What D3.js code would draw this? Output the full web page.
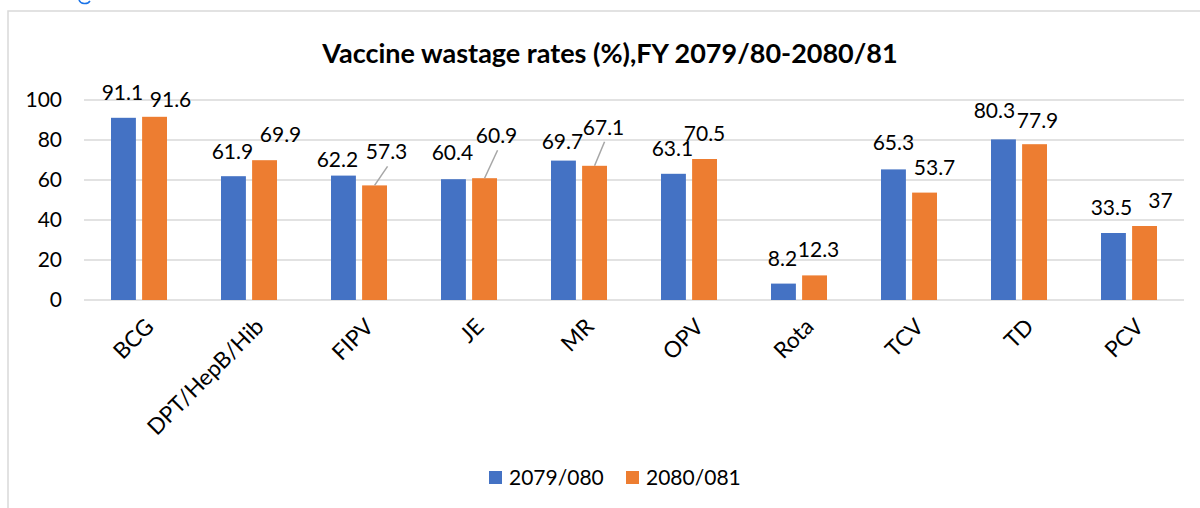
<!DOCTYPE html>
<html>
<head>
<meta charset="utf-8">
<script src="https://cdn.jsdelivr.net/npm/d3@7"></script>
<style>
  body { margin: 0; background: #fff; }
  svg { display: block; font-family: Lato, "Open Sans", sans-serif; }
</style>
</head>
<body>
<div id="chart"></div>
<script>
var width = 1200, height = 508;
var margin = {top: 100, right: 16, bottom: 208, left: 84};

var categories = ["BCG", "DPT/HepB/Hib", "FIPV", "JE", "MR", "OPV", "Rota", "TCV", "TD", "PCV"];
var seriesNames = ["2079/080", "2080/081"];
var values2079 = [91.1, 61.9, 62.2, 60.4, 69.7, 63.1, 8.2, 65.3, 80.3, 33.5];
var values2080 = [91.6, 69.9, 57.3, 60.9, 67.1, 70.5, 12.3, 53.7, 77.9, 37];
var yTicks = [0, 20, 40, 60, 80, 100];
var colors = ["#4472c4", "#ed7d31"];

// labels were dragged around by hand in the original, so keep the nudges (px) apart from the data
var nudge2079 = [[-1, 0], [-1, 1], [-6, 9], [-1, -1], [-1, 6], [-1, 0], [-1, 0], [0, -1], [-9, -3], [-2, 0]];
var nudge2080 = [[16, 8], [16, 0], [12, -8], [12, -17], [9, -13], [0, 0], [4, 0], [10, 0], [3, 2], [16, 0]];
var leader2080 = [false, false, true, true, true, false, false, false, false, false];

var series = [values2079, values2080];
var nudges = [nudge2079, nudge2080];

var svg = d3.select("#chart").append("svg")
    .attr("width", width)
    .attr("height", height);

// chart frame (only top + left edges are in view)
svg.append("path")
    .attr("d", "M8,508 V11 H1200")
    .attr("fill", "none")
    .attr("stroke", "#d9d9d9")
    .attr("stroke-width", 1.5);

// little blue fragment peeking in at the top
svg.append("path")
    .attr("d", "M79,0 A6,5 0 0 0 90,1")
    .attr("fill", "none")
    .attr("stroke", "#1a73e8")
    .attr("stroke-width", 1.5);

var x = d3.scaleBand()
    .domain(categories)
    .range([margin.left, width - margin.right])
    .padding(0);

var xSub = d3.scaleBand()
    .domain([0, 1])
    .range([-28, 28])
    .paddingInner(0.2);

var y = d3.scaleLinear()
    .domain([0, 100])
    .range([height - margin.bottom, margin.top]);

// gridlines
svg.append("g")
  .selectAll("line")
  .data(yTicks)
  .join("line")
    .attr("x1", margin.left)
    .attr("x2", width - margin.right)
    .attr("y1", d => y(d))
    .attr("y2", d => y(d))
    .attr("stroke", "#d9d9d9")
    .attr("stroke-width", 1.4);

// y axis labels
var yAxis = svg.append("g")
    .attr("transform", "translate(62,0)")
    .call(d3.axisLeft(y).tickValues(yTicks).tickSize(0).tickPadding(0));
yAxis.select(".domain").remove();
yAxis.selectAll("text")
    .attr("font-family", "Lato, sans-serif")
    .attr("font-size", 21)
    .attr("fill", "#000");

// bars
series.forEach((vals, s) => {
  svg.append("g")
      .attr("fill", colors[s])
    .selectAll("rect")
    .data(vals)
    .join("rect")
      .attr("x", (d, i) => x(categories[i]) + x.bandwidth() / 2 + xSub(s))
      .attr("y", d => y(d))
      .attr("width", xSub.bandwidth())
      .attr("height", d => y(0) - y(d));
});

// leader lines for moved labels
svg.append("g")
    .attr("stroke", "#a6a6a6")
    .attr("stroke-width", 1.5)
  .selectAll("line")
  .data(values2080.map((v, i) => ({v: v, i: i})).filter(d => leader2080[d.i]))
  .join("line")
    .attr("x1", d => x(categories[d.i]) + x.bandwidth() / 2 + xSub(1) + xSub.bandwidth() / 2 + nudge2080[d.i][0] + 1)
    .attr("y1", d => y(d.v) - 18 + nudge2080[d.i][1] + 7)
    .attr("x2", d => x(categories[d.i]) + x.bandwidth() / 2 + xSub(1) + xSub.bandwidth() / 2)
    .attr("y2", d => y(d.v));

// value labels
series.forEach((vals, s) => {
  svg.append("g")
      .attr("text-anchor", "middle")
      .attr("font-size", 21)
    .selectAll("text")
    .data(vals)
    .join("text")
      .attr("x", (d, i) => x(categories[i]) + x.bandwidth() / 2 + xSub(s) + xSub.bandwidth() / 2 + nudges[s][i][0])
      .attr("y", (d, i) => y(d) - 18 + nudges[s][i][1])
      .text(d => d);
});

// category labels, rotated
svg.append("g")
    .attr("font-size", 22.5)
    .attr("text-anchor", "end")
  .selectAll("text")
  .data(categories)
  .join("text")
    .attr("transform", d => `translate(${x(d) + x.bandwidth() / 2 + 5},${y(0) + 17}) rotate(-45)`)
    .attr("dy", "0.7em")
    .text(d => d);

// title
svg.append("text")
    .attr("x", 610)
    .attr("y", 63)
    .attr("text-anchor", "middle")
    .attr("font-size", 27)
    .attr("font-weight", "bold")
    .text("Vaccine wastage rates (%),FY 2079/80-2080/81");

// legend
var legend = svg.append("g")
    .attr("font-size", 21)
  .selectAll("g")
  .data(seriesNames)
  .join("g")
    .attr("transform", (d, i) => `translate(${489 + i * 137},471)`);

legend.append("rect")
    .attr("width", 13)
    .attr("height", 13)
    .attr("fill", (d, i) => colors[i]);

legend.append("text")
    .attr("x", 20)
    .attr("y", 14)
    .text(d => d);
</script>
</body>
</html>
